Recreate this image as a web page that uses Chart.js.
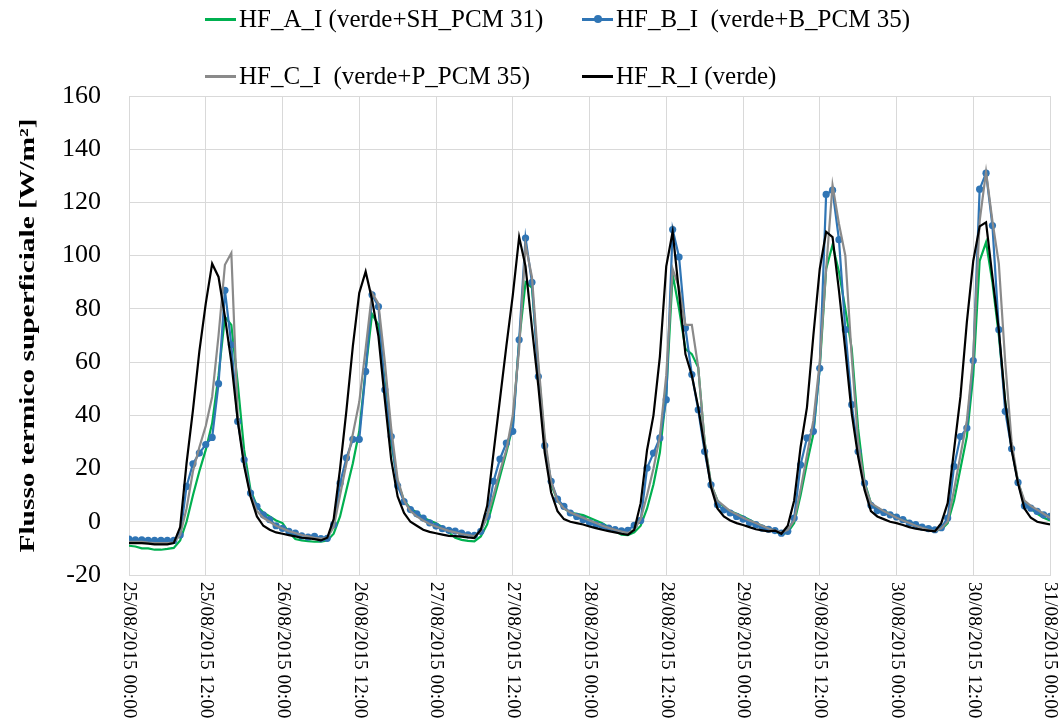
<!DOCTYPE html>
<html>
<head>
<meta charset="utf-8">
<script src="https://cdn.jsdelivr.net/npm/chart.js@4.4.0/dist/chart.umd.min.js"></script>
<style>
  html, body { margin: 0; padding: 0; background: #fff; }
  #wrap { position: relative; width: 1061px; height: 720px; }
  #legend { position: absolute; left: 0; top: 0; width: 1061px; height: 100px;
            font-family: "Liberation Serif", "Times New Roman", serif; font-size: 25px; color: #000; }
  .item { position: absolute; display: flex; align-items: center; white-space: pre; }
  .swatch { width: 31px; height: 3px; margin-right: 3px; position: relative; }
  .dot { position: absolute; left: 12px; top: -3px; width: 8px; height: 8px; border-radius: 50%; }
</style>
</head>
<body>
<div id="wrap">
  <canvas id="chart" width="1061" height="720"></canvas>
  <div id="legend"></div>
</div>
<script>
// hourly samples, 25/08/2015 00:00 -> 31/08/2015 00:00
const hours = Array.from({ length: 145 }, (_, i) => i);

const tickHours = [0, 12, 24, 36, 48, 60, 72, 84, 96, 108, 120, 132, 144];
const tickLabels = [
  '25/08/2015 00:00', '25/08/2015 12:00', '26/08/2015 00:00', '26/08/2015 12:00',
  '27/08/2015 00:00', '27/08/2015 12:00', '28/08/2015 00:00', '28/08/2015 12:00',
  '29/08/2015 00:00', '29/08/2015 12:00', '30/08/2015 00:00', '30/08/2015 12:00',
  '31/08/2015 00:00'
];

const yTitle = 'Flusso termico superficiale [W/m²]';

const hfA = [
  -9, -9.3, -10, -10, -10.5, -10.5, -10.2, -9.8, -7, 0, 10, 19,
  27, 37, 55, 77, 74, 52, 27, 12, 6, 3.5, 2, 0.5,
  -0.5, -4, -6.5, -7, -7.3, -7.5, -7.5, -7, -4.5, 2, 12, 22,
  34, 57, 78, 74, 52, 30, 15, 8, 5, 3.5, 1.5, 0.5,
  -0.5, -2, -4, -6, -6.8, -7.2, -7.4, -5.5, -1, 8, 17, 26,
  36, 68, 90, 88, 58, 30, 14, 8, 5, 3.5, 3, 2.5,
  1.5, 0.5, -0.5, -2, -3.5, -4.8, -5, -4, -1.5, 5, 14, 26,
  48, 93, 80, 65, 63, 58, 30, 14, 8, 5.5, 4, 3,
  2, 0.8, -0.5, -1.5, -2.5, -3.5, -4.9, -4, -0.5, 10, 22, 33,
  58, 95, 104, 94, 80, 65, 35, 15, 7, 5, 4, 3,
  2, 1, 0, -1, -1.8, -2.5, -3.2, -3, -0.5, 8, 20, 32,
  55, 98, 105, 90, 70, 45, 28, 15, 7, 5, 3, 1.5, 0.5
];

const hfB = [
  -6.5, -6.8, -6.8, -7, -7, -7, -7, -7, -5, 13.3, 21.8, 25.8,
  29, 31.7, 51.9, 87, 66.5, 37.7, 23.3, 10.8, 5.8, 2.6, 0.8, -1.5,
  -2.5, -3.6, -4.3, -5.3, -5.8, -5.5, -6.3, -6.2, -1.1, 14.5, 24, 31,
  31, 56.5, 85.3, 80.9, 49.6, 32, 13.5, 7.6, 4.6, 3, 1.4, -0.4,
  -1.6, -2.6, -3.2, -3.5, -4.3, -4.9, -5.1, -3.6, 2, 15.2, 23.6, 29.6,
  34, 68.4, 106.6, 90, 54.6, 28.6, 15.2, 8.5, 5.8, 3.3, 2, 0.8,
  -0.3, -1.1, -1.8, -2.4, -2.9, -3.4, -3.2, -1.3, 0.5, 20.2, 25.8, 31.5,
  45.9, 109.8, 99.5, 72.8, 55.3, 42.1, 26.4, 13.9, 6.4, 4.5, 3.3, 2,
  1, -0.3, -1.1, -2.4, -2.8, -3.3, -4.3, -3.6, 1.4, 21.4, 31.5, 34,
  57.7, 123, 124.6, 106, 72.2, 44, 26.4, 14.5, 6.2, 4.2, 3.5, 2.6,
  1.8, 0.8, -0.5, -1.1, -2, -2.6, -3, -2.2, 1.4, 20.8, 32, 35.2,
  60.6, 125, 131, 111.3, 72.2, 41.5, 27.4, 14.8, 6, 5.1, 3.9, 2.6, 2
];

const hfC = [
  -7.5, -7.5, -7.5, -7.8, -8, -8, -8, -7.8, -5, 5, 19, 28,
  36, 47, 70, 96.6, 101, 40, 22, 10, 4, 1.5, 0, -1.5,
  -2.5, -3.5, -4.2, -5, -5.5, -6, -6.3, -6, -2, 10, 22, 33,
  45, 65, 86, 82, 60, 35, 16, 8, 4, 2, 0.5, -0.8,
  -1.8, -2.6, -3.4, -4, -4.6, -5, -5.4, -3.5, 2, 10, 19, 27,
  40, 65, 104, 92, 60, 32, 15, 8, 5, 3.5, 2.5, 1.5,
  0.5, -0.5, -1.5, -2.3, -3, -3.7, -4.2, -3, 1, 10, 20, 32,
  55, 95, 88, 74, 74, 58, 30, 14, 8, 6, 4, 2.8,
  1.5, 0.5, -0.5, -1.5, -2.5, -3.3, -4, -3, 0.5, 12, 25, 38,
  60, 95, 126.5, 112, 100, 62, 30, 14, 7, 5.5, 4, 2.8,
  1.5, 0.5, -0.5, -1.5, -2.3, -3, -3.5, -2.5, 0, 12, 25, 38,
  62, 113, 131.5, 113, 97, 60, 30, 15, 8, 6, 4.5, 3, 1.5
];

const hfR = [
  -8, -8, -8, -8.2, -8.5, -8.5, -8.5, -8, -2, 22, 42, 64,
  82, 97, 92, 77, 60, 38, 21, 9.5, 2, -1.5, -3, -4,
  -4.5, -5, -5.5, -6, -6.2, -6.5, -7, -6, 1, 20, 42, 66,
  86, 94, 83.5, 69.7, 45.9, 23.3, 9.5, 3.3, 0, -1.5, -3, -3.8,
  -4.3, -4.8, -5.3, -5.4, -5.6, -5.9, -6.1, -3, 6, 26, 46, 66,
  85, 107, 96, 73, 51, 26, 11, 4, 1, 0, -0.5, -1,
  -1.8, -2.4, -3, -3.5, -4, -4.5, -4.9, -3, 7, 27, 40, 62,
  96, 109, 86, 63, 55, 43, 28, 13, 5, 2, 0.5, -0.5,
  -1.2, -2, -2.8, -3.2, -3.6, -3.3, -4.5, -1.5, 8, 28, 43, 70,
  95, 109, 107, 87, 64.5, 40.7, 24.5, 12, 4, 2, 1, 0,
  -0.5, -1.2, -2, -2.6, -3, -3.3, -3.6, -0.5, 7, 27, 47, 75,
  98, 111, 112.5, 92, 72, 45, 27, 14.5, 5, 1.5, 0, -0.5, -1
];

const toPoints = vals => vals.map((v, i) => ({ x: hours[i], y: v }));

const SERIF = '"Liberation Serif", "Times New Roman", serif';

// rotated date labels (reading top to bottom) and the stretched axis title
const axisTextPlugin = {
  id: 'axisText',
  afterDraw(chart) {
    const { ctx, chartArea } = chart;
    const x = chart.scales.x;
    ctx.save();
    ctx.font = '18px ' + SERIF;
    ctx.fillStyle = '#000';
    ctx.textAlign = 'left';
    ctx.textBaseline = 'middle';
    tickLabels.forEach((lab, i) => {
      ctx.save();
      ctx.translate(x.getPixelForValue(tickHours[i]), chartArea.bottom + 7);
      ctx.rotate(Math.PI / 2);
      ctx.scale(1.07, 1);
      ctx.fillText(lab, 0, 0);
      ctx.restore();
    });

    ctx.font = 'bold 22px ' + SERIF;
    ctx.textAlign = 'center';
    ctx.translate(28, (chartArea.top + chartArea.bottom) / 2);
    ctx.rotate(-Math.PI / 2);
    const w = ctx.measureText(yTitle).width;
    ctx.scale(434 / w, 1);
    ctx.fillText(yTitle, 0, 0);
    ctx.restore();
  }
};

const chart = new Chart(document.getElementById('chart'), {
  type: 'line',
  data: {
    datasets: [
      { label: 'HF_A_I (verde+SH_PCM 31)', data: toPoints(hfA), borderColor: '#00B050',
        borderWidth: 2.2, pointRadius: 0, order: 3 },
      { label: 'HF_B_I  (verde+B_PCM 35)', data: toPoints(hfB), borderColor: '#2F75B5',
        backgroundColor: '#2F75B5', borderWidth: 2.2, pointRadius: 3.6, pointBorderWidth: 0,
        pointBackgroundColor: '#2F75B5', order: 2 },
      { label: 'HF_C_I  (verde+P_PCM 35)', data: toPoints(hfC), borderColor: '#8A8A8A',
        borderWidth: 2.2, pointRadius: 0, order: 1 },
      { label: 'HF_R_I (verde)', data: toPoints(hfR), borderColor: '#000000',
        borderWidth: 2.2, pointRadius: 0, order: 0 }
    ]
  },
  options: {
    responsive: false,
    animation: false,
    events: [],
    layout: { padding: { top: 96, right: 11, bottom: 145, left: 0 } },
    plugins: { legend: { display: false }, tooltip: { enabled: false } },
    scales: {
      x: {
        type: 'linear',
        min: 0,
        max: 144,
        ticks: { display: false, stepSize: 12 },
        grid: { color: '#d9d9d9', drawTicks: false },
        border: { color: '#d9d9d9' }
      },
      y: {
        min: -20,
        max: 160,
        ticks: { stepSize: 20, padding: 28, color: '#000', font: { family: SERIF, size: 26 } },
        grid: { color: '#d9d9d9', drawTicks: false },
        border: { color: '#d9d9d9' },
        afterFit(axis) { axis.width = 129; }
      }
    }
  },
  plugins: [axisTextPlugin]
});

// legend laid out in two rows like the original
const legendPos = [[205, 20], [582, 20], [205, 77], [582, 77]];
const legendEl = document.getElementById('legend');
chart.data.datasets.forEach((ds, i) => {
  const item = document.createElement('div');
  item.className = 'item';
  item.style.left = legendPos[i][0] + 'px';
  item.style.top = (legendPos[i][1] - 15) + 'px';
  const sw = document.createElement('span');
  sw.className = 'swatch';
  sw.style.background = ds.borderColor;
  if (ds.pointRadius > 0) {
    const dot = document.createElement('span');
    dot.className = 'dot';
    dot.style.background = ds.borderColor;
    sw.appendChild(dot);
  }
  item.appendChild(sw);
  item.appendChild(document.createTextNode(ds.label));
  legendEl.appendChild(item);
});
</script>
</body>
</html>
